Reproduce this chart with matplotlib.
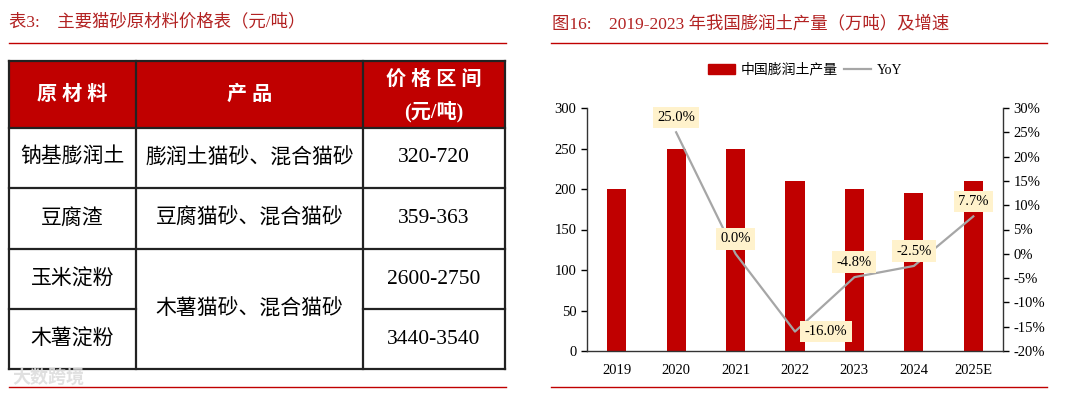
import matplotlib
matplotlib.use("Agg")
import matplotlib.pyplot as plt
from matplotlib.patches import Rectangle
from matplotlib.lines import Line2D
from matplotlib.ticker import FuncFormatter, MultipleLocator

FAM = ['Liberation Serif', 'Noto Sans CJK SC', 'DejaVu Sans']
plt.rcParams['font.family'] = FAM

RED = '#C00000'
TITLE_RED = '#B22222'

# ---------------- data ----------------
table_header = ['原 材 料', '产 品', '价 格 区 间', '(元/吨)']
materials = ['钠基膨润土', '豆腐渣', '玉米淀粉', '木薯淀粉']
products = ['膨润土猫砂、混合猫砂', '豆腐猫砂、混合猫砂', '木薯猫砂、混合猫砂']
prices = ['320-720', '359-363', '2600-2750', '3440-3540']

years = ['2019', '2020', '2021', '2022', '2023', '2024', '2025E']
production = [200, 250, 250, 210, 200, 195, 210]
yoy = [None, 25.0, 0.0, -16.0, -4.8, -2.5, 7.7]

W, H = 1080, 394
fig = plt.figure(figsize=(W / 100, H / 100), dpi=100)


def fx(x):
    return x / W


def fy(y):
    return 1 - y / H


# ---------------- left: table ----------------
fig.text(fx(9), fy(22), '表3:    主要猫砂原材料价格表（元/吨）', color=TITLE_RED,
         fontsize=12.5, va='center', ha='left', family=FAM)
fig.add_artist(Line2D([fx(9), fx(506)], [fy(43), fy(43)], color=RED, lw=1.0))
fig.add_artist(Line2D([fx(9), fx(506)], [fy(387), fy(387)], color=RED, lw=1.0))

cols = [9, 136, 363, 505]
rows = [61, 128, 188, 249, 309, 369]

fig.add_artist(Rectangle((fx(cols[0]), fy(rows[1])), fx(cols[3]) - fx(cols[0]),
                         fy(rows[0]) - fy(rows[1]), facecolor=RED, edgecolor='none'))
LC = '#222222'
LW = 1.6
for r in rows:
    if r == 309:
        fig.add_artist(Line2D([fx(cols[0]), fx(cols[1])], [fy(r), fy(r)], color=LC, lw=LW))
        fig.add_artist(Line2D([fx(cols[2]), fx(cols[3])], [fy(r), fy(r)], color=LC, lw=LW))
    else:
        fig.add_artist(Line2D([fx(cols[0]), fx(cols[3])], [fy(r), fy(r)], color=LC, lw=LW))
for c in cols:
    fig.add_artist(Line2D([fx(c), fx(c)], [fy(rows[0]), fy(rows[-1])], color=LC, lw=LW))

centers_x = [(cols[i] + cols[i + 1]) / 2 for i in range(3)]
hy = (rows[0] + rows[1]) / 2
fig.text(fx(centers_x[0]), fy(hy), table_header[0], color='white', fontsize=14.5,
         fontweight='bold', ha='center', va='center', family=FAM)
fig.text(fx(centers_x[1]), fy(hy), table_header[1], color='white', fontsize=14.5,
         fontweight='bold', ha='center', va='center', family=FAM)
fig.text(fx(centers_x[2]), fy(80), table_header[2], color='white', fontsize=14.5,
         fontweight='bold', ha='center', va='center', family=FAM)
fig.text(fx(centers_x[2]), fy(112), table_header[3], color='white', fontsize=14.5,
         fontweight='bold', ha='center', va='center', family=FAM)

for i, m in enumerate(materials):
    cy = (rows[i + 1] + rows[i + 2]) / 2
    fig.text(fx(centers_x[0]), fy(cy), m, fontsize=15, ha='center', va='center', family=FAM)
    fig.text(fx(centers_x[2]), fy(cy), prices[i], fontsize=15.5, ha='center', va='center', family=FAM)

prod_y = [(rows[1] + rows[2]) / 2, (rows[2] + rows[3]) / 2, (rows[3] + rows[5]) / 2]
for p, cy in zip(products, prod_y):
    fig.text(fx(centers_x[1]), fy(cy), p, fontsize=15, ha='center', va='center', family=FAM)

fig.text(fx(12), fy(378), '大数跨境', color='#DDDDDD', fontsize=13, fontweight='bold',
         ha='left', va='center', family=FAM, alpha=0.9)

# ---------------- right: chart ----------------
fig.text(fx(552), fy(24), '图16:    2019-2023 年我国膨润土产量（万吨）及增速', color=TITLE_RED,
         fontsize=12.5, va='center', ha='left', family=FAM)
fig.add_artist(Line2D([fx(551), fx(1047)], [fy(43), fy(43)], color=RED, lw=1.0))
fig.add_artist(Line2D([fx(551), fx(1047)], [fy(387), fy(387)], color=RED, lw=1.0))

ax = fig.add_axes([fx(587), fy(351), fx(1003) - fx(587), fy(108) - fy(351)])
x = list(range(len(years)))
ax.bar(x, production, width=0.32, color=RED, zorder=2, label='中国膨润土产量')
ax.set_xlim(-0.5, len(years) - 0.5)
ax.set_ylim(0, 300)
ax.yaxis.set_major_locator(MultipleLocator(50))
ax.set_xticks(x)
ax.set_xticklabels(years, fontsize=10.5)
ax.tick_params(axis='x', length=0, pad=9)
ax.tick_params(axis='y', labelsize=10.5, direction='out', length=4, width=1)
for s in ['top', 'right']:
    ax.spines[s].set_visible(False)
for s in ['left', 'bottom']:
    ax.spines[s].set_color('#333333')
    ax.spines[s].set_linewidth(1.0)

ax2 = ax.twinx()
yx = [i for i, v in enumerate(yoy) if v is not None]
yv = [v for v in yoy if v is not None]
ax2.plot(yx, yv, color='#A6A6A6', lw=1.6, zorder=3, label='YoY')
ax2.set_ylim(-20, 30)
ax2.yaxis.set_major_locator(MultipleLocator(5))
ax2.yaxis.set_major_formatter(FuncFormatter(lambda v, p: f'{v:.0f}%'))
ax2.tick_params(axis='y', labelsize=10.5, direction='out', length=4, width=1)
for s in ['top', 'left', 'bottom']:
    ax2.spines[s].set_visible(False)
ax2.spines['right'].set_color('#333333')
ax2.spines['right'].set_linewidth(1.0)

for xi, v in zip(yx, yv):
    if v == -16.0:
        off, ha, va = (7, 0), 'left', 'center'
    else:
        off, ha, va = (0, 6), 'center', 'bottom'
    ax2.annotate(f'{v:.1f}%', (xi, v), xytext=off, textcoords='offset points',
                 ha=ha, va=va, fontsize=10.5, zorder=5,
                 bbox=dict(boxstyle='square,pad=0.3', fc='#FFF2CC', ec='none'))

handles = [Rectangle((0, 0), 1, 1, color=RED), Line2D([0], [0], color='#A6A6A6', lw=1.6)]
fig.legend(handles, ['中国膨润土产量', 'YoY'], loc='center', ncol=2,
           bbox_to_anchor=(fx(805), fy(70)), frameon=False, fontsize=10,
           handlelength=2.0, handleheight=0.7, columnspacing=0.4, handletextpad=0.4)

fig.savefig('out.png', dpi=100)
